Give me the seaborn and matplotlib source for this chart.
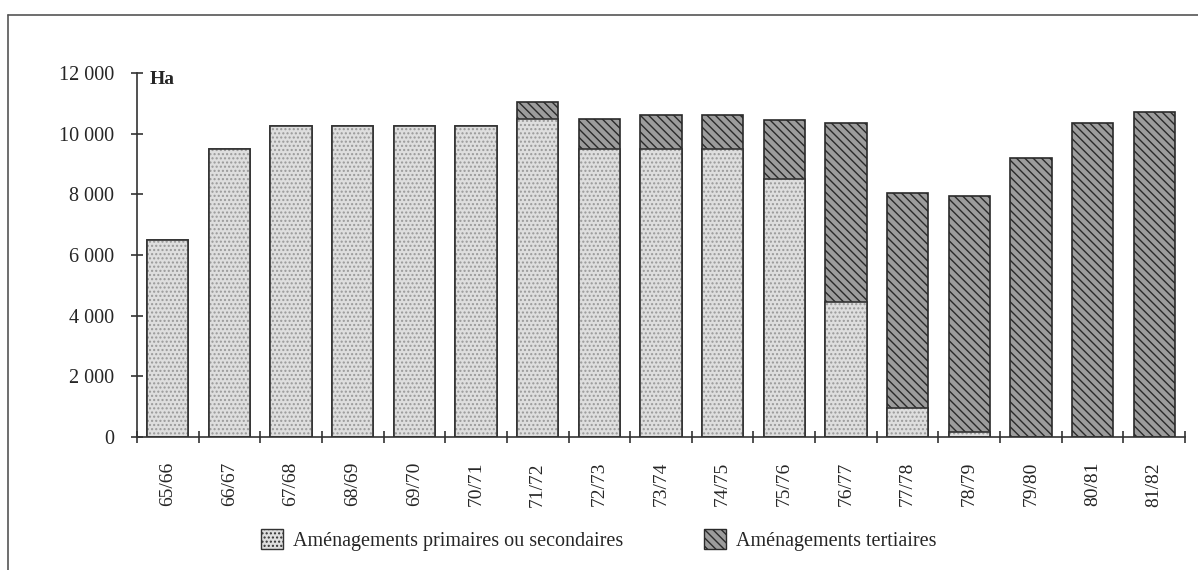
import numpy as np
import pandas as pd
import matplotlib
matplotlib.use("Agg")
import matplotlib.pyplot as plt
import seaborn as sns
from matplotlib.patches import Patch
from matplotlib.lines import Line2D

# values (hectares)
campagnes = ['65/66', '66/67', '67/68', '68/69', '69/70', '70/71', '71/72', '72/73', '73/74',
             '74/75', '75/76', '76/77', '77/78', '78/79', '79/80', '80/81', '81/82']
primaires = [6500, 9500, 10250, 10250, 10250, 10250, 10500, 9500, 9500,
             9500, 8500, 4450, 950, 170, 0, 0, 0]
tertiaires = [0, 0, 0, 0, 0, 0, 550, 1000, 1100,
              1100, 1950, 5900, 7100, 7780, 9200, 10350, 10700]
yticks = [0, 2000, 4000, 6000, 8000, 10000, 12000]

df = pd.DataFrame({'campagne': campagnes, 'prim': primaires, 'tert': tertiaires})
df['total'] = df['prim'] + df['tert']

sns.set_style("white")
plt.rcParams['font.family'] = ['Liberation Serif', 'DejaVu Serif']
plt.rcParams['hatch.linewidth'] = 1.0

fig = plt.figure(figsize=(11.98, 5.70), dpi=100)
ax = fig.add_axes([137/1198, 1-437/570, (1185-137)/1198, (437-73)/570])

# total bar drawn in the tertiary style, primary drawn over it
sns.barplot(data=df, x='campagne', y='total', color='#9c9c9c', width=0.67,
            edgecolor='#2a2a2a', linewidth=1.2, hatch='\\\\\\\\', saturation=1, ax=ax)
sns.barplot(data=df, x='campagne', y='prim', color='#dedede', width=0.67,
            edgecolor='#999999', linewidth=0, hatch='....', saturation=1, ax=ax)
sns.barplot(data=df, x='campagne', y='prim', width=0.67, fill=False,
            edgecolor='#333333', linewidth=1.2, ax=ax)
# hide zero-height bars
for p in ax.patches:
    if p.get_height() == 0:
        p.set_visible(False)

ax.set_xlim(-0.5, len(campagnes) - 0.5)
ax.set_ylim(0, 12000)
ax.set_xlabel('')
ax.set_ylabel('')
for s in ['top', 'right']:
    ax.spines[s].set_visible(False)
for s in ['left', 'bottom']:
    ax.spines[s].set_color('#333333')
    ax.spines[s].set_linewidth(1.2)

ax.set_yticks(yticks)
ax.set_yticklabels([f"{v:,}".replace(",", " ") for v in yticks], fontsize=14.5)
ax.tick_params(axis='y', left=True, direction='inout', length=9, width=1.2, color='#333333', pad=12)

ax.set_xticks(range(len(campagnes)))
ax.set_xticklabels(campagnes, rotation=90, fontsize=14)
ax.tick_params(axis='x', which='major', bottom=False, length=0, pad=18)
ax.set_xticks(np.arange(-0.5, len(campagnes)), minor=True)
ax.tick_params(axis='x', which='minor', bottom=True, direction='inout', length=9, width=1.2,
               color='#333333')

ax.text(150/1198, 1-80/570, 'Ha', transform=fig.transFigure, fontsize=14,
        fontweight='bold', va='center', ha='left')

handles = [Patch(facecolor='#dedede', edgecolor='#333333', hatch='....', linewidth=1.0),
           Patch(facecolor='#9c9c9c', edgecolor='#2a2a2a', hatch='\\\\\\\\', linewidth=1.0)]
fig.legend(handles, ['Aménagements primaires ou secondaires', 'Aménagements tertiaires'],
           loc='center', bbox_to_anchor=(0.5, 1-540/570), ncol=2, frameon=False,
           fontsize=14.5, handlelength=1.1, handleheight=1.1, columnspacing=4.0, handletextpad=0.5)

# outer frame of the original figure
fig.add_artist(Line2D([8/1198, 1], [1-15/570, 1-15/570], color='#555555', lw=1.2))
fig.add_artist(Line2D([8/1198, 8/1198], [0, 1-15/570], color='#555555', lw=1.2))

fig.savefig('out.png', dpi=100)
